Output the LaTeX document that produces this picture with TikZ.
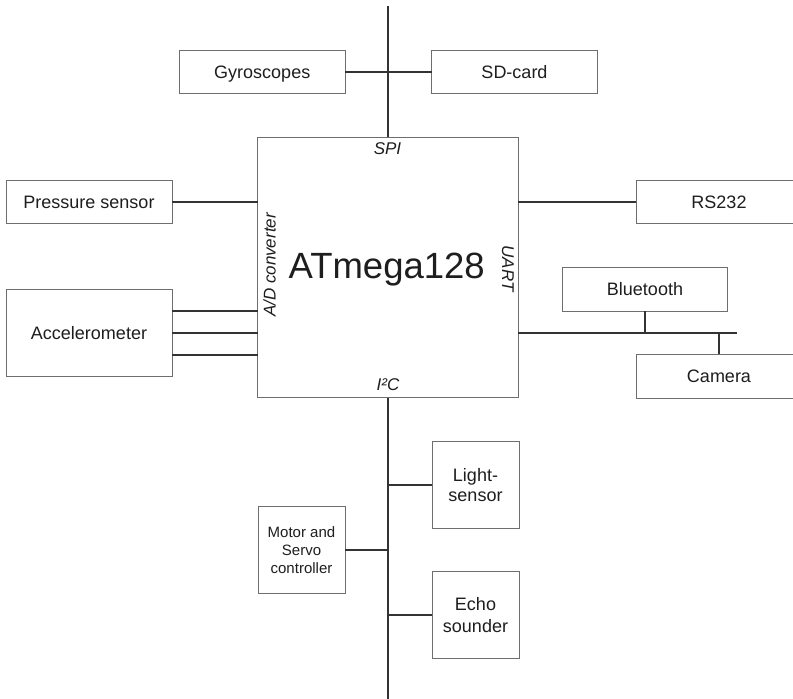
\documentclass[tikz,border=0pt]{standalone}
\usepackage{fontspec}
\setmainfont{Liberation Sans}
\usetikzlibrary{calc}
\definecolor{boxline}{HTML}{6E6E6E}
\definecolor{wire}{HTML}{333333}
\definecolor{txt}{HTML}{1E1E1E}
\tikzset{
  blk/.style={draw=boxline, line width=1pt, fill=white, inner sep=0pt, outer sep=0pt,
    anchor=center, align=center, text=txt, font=\fontsize{18}{20.7}\selectfont},
  oneline/.style={text depth=0pt},
  wireline/.style={draw=wire, line width=2pt},
  buslabel/.style={text=txt, inner sep=0pt, anchor=base, font=\fontsize{17}{20}\selectfont\itshape}
}
\begin{document}
\begin{tikzpicture}[x=1pt,y=-1pt]
\useasboundingbox (0,0) rectangle (793,699);
\clip (0,0) rectangle (793,699);
\fill[white] (0,0) rectangle (793,699);

% main controller
\node[blk, minimum width=260.5pt, minimum height=260.5pt] (main) at (388,267.25) {};
\node[text=txt, inner sep=0pt, anchor=base, font=\fontsize{36.5}{40}\selectfont] (mcu) at (386.7,278.3) {ATmega128};
\node[buslabel] (spi) at (387.5,154) {SPI};
\node[buslabel] (i2c) at (388,390.7) {I²C};
\node[buslabel, rotate=90] (adc) at (275.5,265) {A/D converter};
\node[buslabel, rotate=-90] (uart) at (502,268.7) {UART};

% peripheral boxes
\node[blk, oneline, minimum width=165.5pt, minimum height=43.5pt] (gyro) at (262.25,72) {Gyroscopes};
\node[blk, oneline, minimum width=165.5pt, minimum height=43.5pt] (sd) at (514.5,72) {SD-card};
\node[blk, oneline, minimum width=166pt, minimum height=43.5pt] (press) at (89,202) {Pressure sensor};
\node[blk, oneline, minimum width=166pt, minimum height=86.5pt] (accel) at (89,333) {Accelerometer};
\node[blk, oneline, minimum width=165.5pt, minimum height=43.5pt] (rs) at (719,202) {RS232};
\node[blk, oneline, minimum width=165.5pt, minimum height=43.5pt] (bt) at (645,289.25) {Bluetooth};
\node[blk, oneline, minimum width=165.5pt, minimum height=44pt] (cam) at (719,376) {Camera};
\node[blk, minimum width=87pt, minimum height=87pt] (light) at (475.5,485) {Light-\\sensor};
\node[blk, minimum width=87pt, minimum height=87pt, font=\fontsize{15}{18}\selectfont] (motor) at (301.5,550) {Motor and\\Servo\\controller};
\node[blk, minimum width=87pt, minimum height=86.5pt, font=\fontsize{18}{21.3}\selectfont] (echo) at (475.5,615) {Echo\\sounder};

% bus end points
\coordinate (top) at (388,6);
\coordinate (bot) at (388,699);
\coordinate (uend) at (737,333);
\coordinate (a1) at ($(accel.east)+(0,-22)$);
\coordinate (a3) at ($(accel.east)+(0,22)$);

% SPI bus
\draw[wireline] (top) -- (main.north);
\draw[wireline] (gyro.east) -- (sd.west);

% A/D converter
\draw[wireline] (press.east) -- (press.east -| main.west);
\draw[wireline] (a1) -- (a1 -| main.west);
\draw[wireline] (accel.east) -- (accel.east -| main.west);
\draw[wireline] (a3) -- (a3 -| main.west);

% UART
\draw[wireline] (rs.west) -- (rs.west -| main.east);
\draw[wireline] (uend -| main.east) -- (uend);
\draw[wireline] (bt.south) -- (bt.south |- uend);
\draw[wireline] (cam.north) -- (cam.north |- uend);

% I2C bus
\draw[wireline] (main.south) -- (bot);
\draw[wireline] (light.west) -- (light.west -| bot);
\draw[wireline] (motor.east) -- (motor.east -| bot);
\draw[wireline] (echo.west) -- (echo.west -| bot);
\end{tikzpicture}
\end{document}
